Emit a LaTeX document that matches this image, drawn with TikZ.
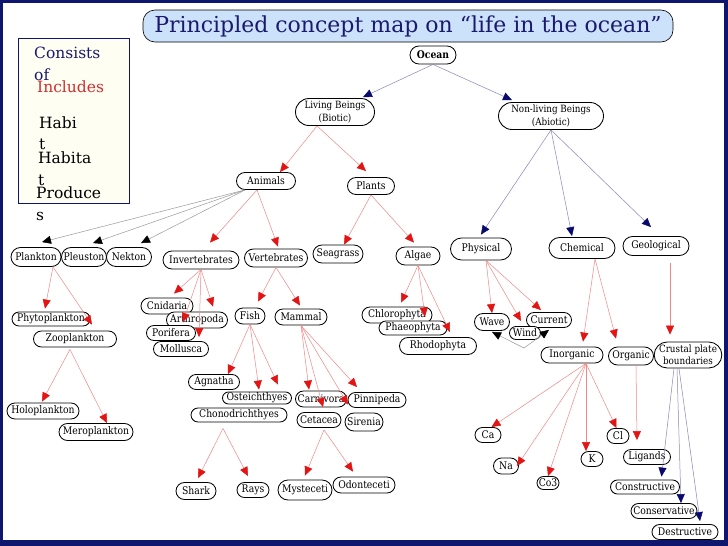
\documentclass[tikz,border=0pt]{standalone}
\usepackage{fontspec}
\setmainfont{DejaVu Serif}
\newfontfamily\nodefont{DejaVu Serif}[FakeStretch=0.88]
\usetikzlibrary{arrows.meta,shapes.misc}
\definecolor{navyframe}{RGB}{14,22,110}
\definecolor{titlefill}{RGB}{204,226,250}
\definecolor{titletext}{RGB}{26,26,110}
\definecolor{legendfill}{RGB}{254,254,242}
\definecolor{arrowred}{RGB}{226,20,20}
\definecolor{linered}{RGB}{240,135,135}
\definecolor{arrownavy}{RGB}{10,10,110}
\definecolor{linenavy}{RGB}{135,135,185}
\definecolor{includesred}{RGB}{212,45,45}
\tikzset{
  cn/.style={shape=rounded rectangle, draw=black, line width=0.85pt, fill=white, inner sep=0pt,
    font=\nodefont\fontsize{10.5}{12}\selectfont, align=center},
  tall/.style={font=\nodefont\fontsize{10}{12.5}\selectfont},
  sz/.style 2 args={minimum width=#1, minimum height=#2},
  redge/.style={draw=linered, line width=0.5pt, -{Triangle[length=9pt,width=8pt,color=arrowred]}},
  nedge/.style={draw=linenavy, line width=0.5pt, -{Triangle[length=9pt,width=8pt,color=arrownavy]}},
  bedge/.style={draw=gray!80, line width=0.5pt, -{Triangle[length=9pt,width=8pt,color=black]}},
  legtext/.style={anchor=base west, inner sep=0pt, font=\fontsize{15.5}{18}\selectfont}
}
\begin{document}
\begin{tikzpicture}[x=1pt,y=-1pt]
\useasboundingbox (0,0) rectangle (728,546);
% frame
\fill[navyframe] (0,0) rectangle (728,546);
\fill[white] (3,3) rectangle (724,540);
% title
\node[draw=black, line width=0.6pt, fill=titlefill, rounded corners=12pt, minimum width=530pt, minimum height=32pt, inner sep=0pt,
  text=titletext, font=\fontsize{22}{26}\selectfont] (title) at (408,26) {Principled concept map on “life in the ocean”};
% legend
\node[draw=navyframe, line width=0.8pt, fill=legendfill, minimum width=111pt, minimum height=165pt, inner sep=0pt] (legend) at (73.5,120.5) {};
\node[legtext, text=titletext] (lega) at (34,58) {Consists};
\node[legtext, text=titletext] (legb) at (34,80) {of};
\node[legtext, text=includesred] (legc) at (37,92) {Includes};
\node[legtext] (legd) at (39,128) {Habi};
\node[legtext] (lege) at (39,149) {t};
\node[legtext] (legf) at (38,163) {Habita};
\node[legtext] (legg) at (38,185) {t};
\node[legtext] (legh) at (36,198) {Produce};
\node[legtext] (legi) at (36,220) {s};
% nodes
\node[cn,sz={46}{18},font=\nodefont\bfseries\fontsize{10.5}{12}\selectfont] (ocean) at (433,55) {Ocean};
\node[cn,tall,sz={79}{27}] (living) at (335,112) {Living Beings\\(Biotic)};
\node[cn,tall,sz={105}{27}] (nonliving) at (551,116) {Non-living Beings\\(Abiotic)};
\node[cn,sz={59}{17}] (animals) at (266,181) {Animals};
\node[cn,sz={47}{17}] (plants) at (371,186) {Plants};
\node[cn,sz={61}{22}] (physical) at (481,249) {Physical};
\node[cn,sz={66}{21}] (chemical) at (582,248) {Chemical};
\node[cn,sz={66}{19}] (geological) at (656,246) {Geological};
\node[cn,sz={44}{18}] (algae) at (418,256) {Algae};
\node[cn,sz={50}{18}] (seagrass) at (338,254) {Seagrass};
\node[cn,sz={50}{19}] (plankton) at (36,257) {Plankton};
\node[cn,sz={45}{19}] (pleuston) at (84,257) {Pleuston};
\node[cn,sz={45}{19}] (nekton) at (129,257) {Nekton};
\node[cn,sz={76}{18}] (invertebrates) at (201,260) {Invertebrates};
\node[cn,sz={63}{18}] (vertebrates) at (276,258) {Vertebrates};
\node[cn,sz={52}{16}] (cnidaria) at (167,306) {Cnidaria};
\node[cn,sz={61}{16}] (arthropoda) at (197,320) {Arthropoda};
\node[cn,sz={49}{15}] (porifera) at (171,333) {Porifera};
\node[cn,sz={55}{15}] (mollusca) at (181,349) {Mollusca};
\node[cn,sz={30}{16}] (fish) at (250,316) {Fish};
\node[cn,sz={52}{16}] (mammal) at (301,317) {Mammal};
\node[cn,sz={78}{14}] (phyto) at (51,319) {Phytoplankton};
\node[cn,sz={83}{16}] (zoo) at (75,339) {Zooplankton};
\node[cn,sz={70}{16}] (chlorophyta) at (397,315) {Chlorophyta};
\node[cn,sz={68}{14}] (phaeophyta) at (413,328) {Phaeophyta};
\node[cn,sz={77}{17}] (rhodophyta) at (438,346) {Rhodophyta};
\node[cn,sz={35}{17}] (wave) at (492,322) {Wave};
\node[cn,sz={45}{15}] (current) at (549,320) {Current};
\node[cn,sz={31}{13}] (wind) at (525,333) {Wind};
\node[cn,sz={62}{16}] (inorganic) at (572,355) {Inorganic};
\node[cn,sz={45}{18}] (organic) at (631,356) {Organic};
\node[cn,tall,sz={64}{26}] (crustal) at (688,355) {Crustal plate\\boundaries};
\node[cn,sz={51}{15}] (agnatha) at (214,382) {Agnatha};
\node[cn,sz={69}{12}] (osteichthyes) at (257,398) {Osteichthyes};
\node[cn,sz={51}{16}] (carnivora) at (321,399) {Carnivora};
\node[cn,sz={58}{15}] (pinnipeda) at (377,400) {Pinnipeda};
\node[cn,sz={96}{14}] (chon) at (239,415) {Chonodrichthyes};
\node[cn,sz={44}{15}] (cetacea) at (319,420) {Cetacea};
\node[cn,sz={38}{18}] (sirenia) at (364,422) {Sirenia};
\node[cn,sz={72}{16}] (holo) at (43,411) {Holoplankton};
\node[cn,sz={74}{17}] (mero) at (96,432) {Meroplankton};
\node[cn,sz={40}{17}] (shark) at (196,491) {Shark};
\node[cn,sz={32}{15}] (rays) at (253,490) {Rays};
\node[cn,sz={54}{20}] (mysteceti) at (305,490) {Mysteceti};
\node[cn,sz={62}{16}] (odonteceti) at (364,485) {Odonteceti};
\node[cn,sz={26}{15}] (ca) at (488,435) {Ca};
\node[cn,sz={25}{16}] (na) at (506,466) {Na};
\node[cn,sz={22}{13}] (co3) at (548,483) {Co3};
\node[cn,sz={22}{15}] (k) at (592,459) {K};
\node[cn,sz={22}{15}] (cl) at (618,436) {Cl};
\node[cn,sz={47}{15}] (ligands) at (647,457) {Ligands};
\node[cn,sz={69}{14}] (constructive) at (645,487) {Constructive};
\node[cn,sz={66}{15}] (conservative) at (664,511) {Conservative};
\node[cn,sz={66}{15}] (destructive) at (685,532) {Destructive};
\coordinate (windlink) at (524,348);
% navy connectors
\draw[nedge] (ocean.south) -- ([xshift=28pt,yshift=1pt]living.north);
\draw[nedge] (ocean.south) -- ([xshift=-39pt,yshift=2pt]nonliving.north);
\draw[nedge] (nonliving.south) -- ([yshift=3pt]physical.north);
\draw[nedge] (nonliving.south) -- ([xshift=-10pt,yshift=1pt]chemical.north);
\draw[nedge] (nonliving.south) -- ([xshift=-5pt,yshift=9pt]geological.north);
\draw[nedge] ([xshift=-14pt]crustal.south) -- ([xshift=-11pt,yshift=3pt]constructive.north east);
\draw[nedge] ([xshift=-11pt]crustal.south) -- ([xshift=17pt]conservative.north);
\draw[nedge] ([xshift=-9pt]crustal.south) -- ([xshift=15pt,yshift=3pt]destructive.north);
% black connectors
\draw[bedge] (animals.south west) -- ([xshift=6pt,yshift=5pt]plankton.north);
\draw[bedge] (animals.south west) -- ([xshift=9pt,yshift=4pt]pleuston.north);
\draw[bedge] (animals.south west) -- ([xshift=12pt,yshift=4pt]nekton.north);
\draw[bedge] (windlink) -- ([yshift=-1pt]wave.south);
\draw[bedge] (windlink) -- ([yshift=-2pt]current.south);
% red connectors
\draw[redge] ([xshift=-18pt]living.south) -- ([xshift=14pt]animals.north);
\draw[redge] ([xshift=-18pt]living.south) -- ([xshift=-5pt,yshift=6pt]plants.north);
\draw[redge] ([xshift=-9pt]animals.south) -- ([xshift=9pt,yshift=8pt]invertebrates.north);
\draw[redge] ([xshift=-9pt]animals.south) -- ([xshift=2pt,yshift=2pt]vertebrates.north);
\draw[redge] (plants.south) -- ([xshift=6pt]seagrass.north);
\draw[redge] (plants.south) -- ([xshift=-4pt,yshift=4pt]algae.north);
\draw[redge] (invertebrates.south) -- ([xshift=7pt,yshift=4pt]cnidaria.north);
\draw[redge] (invertebrates.south) -- ([xshift=16pt,yshift=5pt]arthropoda.north);
\draw[redge] (invertebrates.south) -- ([xshift=12pt,yshift=3pt]porifera.north);
\draw[redge] (invertebrates.south) -- ([xshift=18pt,yshift=4pt]mollusca.north);
\draw[redge] (vertebrates.south) -- ([xshift=8pt,yshift=6pt]fish.north);
\draw[redge] (vertebrates.south) -- ([xshift=-1pt,yshift=3pt]mammal.north);
\draw[redge] (fish.south) -- ([xshift=-4pt]agnatha.north east);
\draw[redge] (fish.south) -- ([xshift=2pt,yshift=2pt]osteichthyes.north);
\draw[redge] (fish.south) -- ([xshift=39pt,yshift=23pt]chon.north);
\draw[redge] (mammal.south) -- ([xshift=-12pt,yshift=1pt]carnivora.north);
\draw[redge] (mammal.south) -- ([xshift=4pt,yshift=5pt]cetacea.north);
\draw[redge] (mammal.south) -- ([xshift=-16pt,yshift=8pt]sirenia.north);
\draw[redge] (mammal.south) -- ([xshift=-20pt,yshift=5pt]pinnipeda.north);
\draw[redge] ([xshift=-16pt,yshift=-6pt]chon.south) -- ([xshift=2pt,yshift=4pt]shark.north);
\draw[redge] ([xshift=-16pt,yshift=-6pt]chon.south) -- ([xshift=-5pt,yshift=6pt]rays.north);
\draw[redge] ([xshift=5pt,yshift=-2pt]cetacea.south) -- ([yshift=4pt]mysteceti.north);
\draw[redge] ([xshift=5pt,yshift=-2pt]cetacea.south) -- ([xshift=-11pt,yshift=5pt]odonteceti.north);
\draw[redge] ([xshift=17pt]plankton.south) -- ([xshift=-6pt,yshift=3pt]phyto.north);
\draw[redge] ([xshift=17pt]plankton.south) -- ([xshift=17pt,yshift=6pt]zoo.north);
\draw[redge] ([xshift=-5pt,yshift=-2pt]zoo.south) -- ([xshift=-1pt,yshift=1pt]holo.north);
\draw[redge] ([xshift=-5pt,yshift=-2pt]zoo.south) -- ([xshift=11pt]mero.north);
\draw[redge] (algae.south) -- ([xshift=4pt,yshift=4pt]chlorophyta.north);
\draw[redge] (algae.south) -- ([xshift=12pt,yshift=4pt]phaeophyta.north);
\draw[redge] (algae.south) -- ([xshift=12pt,yshift=5pt]rhodophyta.north);
\draw[redge] ([xshift=5pt]physical.south) -- (wave.north);
\draw[redge] ([xshift=5pt]physical.south) -- ([xshift=-4pt,yshift=5pt]wind.north);
\draw[redge] ([xshift=5pt]physical.south) -- ([xshift=-8pt,yshift=2pt]current.north);
\draw[redge] ([xshift=13pt]chemical.south) -- ([xshift=11pt,yshift=5pt]inorganic.north);
\draw[redge] ([xshift=13pt]chemical.south) -- ([xshift=-15pt,yshift=8pt]organic.north);
\draw[redge] ([xshift=14pt,yshift=-7pt]geological.south) -- ([xshift=-18pt,yshift=7pt]crustal.north);
\draw[redge] ([xshift=5pt]organic.south) -- ([xshift=-10pt,yshift=9pt]ligands.north);
\draw[redge] ([xshift=14pt]inorganic.south) -- ([xshift=-2pt]ca.north east);
\draw[redge] ([xshift=14pt]inorganic.south) -- ([xshift=-2pt]na.east);
\draw[redge] ([xshift=14pt]inorganic.south) -- (co3.north);
\draw[redge] ([xshift=14pt]inorganic.south) -- ([xshift=-6pt]k.north);
\draw[redge] ([xshift=14pt]inorganic.south) -- ([xshift=2pt]cl.north west);
\end{tikzpicture}
\end{document}
